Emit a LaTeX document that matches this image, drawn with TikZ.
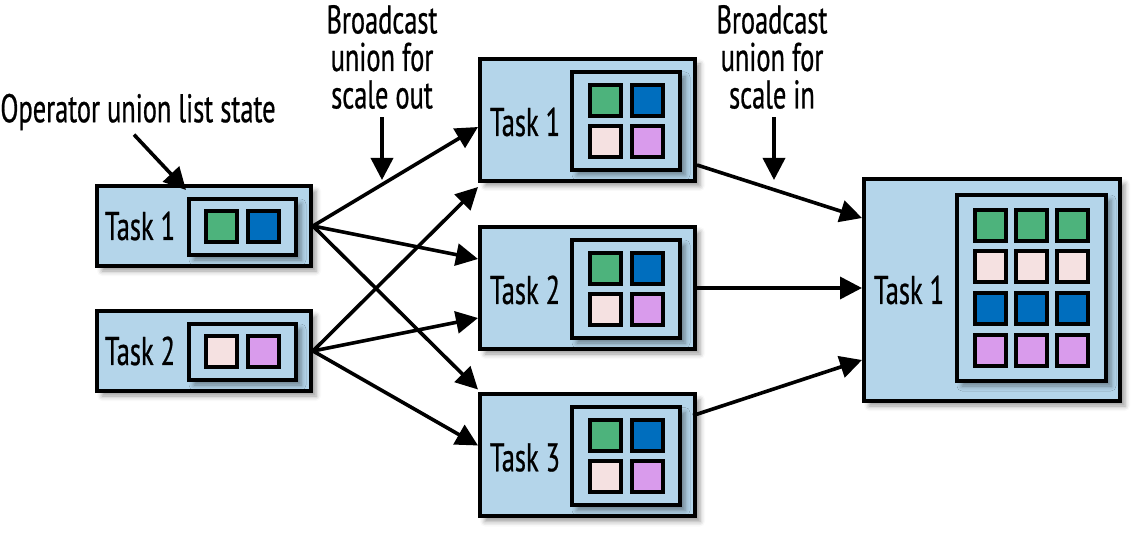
\documentclass[tikz,border=0pt]{standalone}
\usepackage{fontspec}
\setmainfont{PT Sans}[FakeStretch=0.66, FakeBold=0.6]
\usetikzlibrary{arrows.meta,shadows.blur,positioning}
\definecolor{taskblue}{RGB}{180,213,234}
\definecolor{cellgreen}{RGB}{77,179,124}
\definecolor{cellblue}{RGB}{0,110,190}
\definecolor{cellpink}{RGB}{245,225,225}
\definecolor{cellpurple}{RGB}{217,155,236}
\tikzset{
  taskbox/.style  = {shape=rectangle, draw, line width=2pt, fill=taskblue,
                     inner sep=0pt,
                     blur shadow={shadow xshift=2.5pt, shadow yshift=-2.5pt,
                                  shadow blur radius=2.5pt}},
  srctask/.style  = {taskbox, minimum width=107pt, minimum height=40pt},
  midtask/.style  = {taskbox, minimum width=107.5pt, minimum height=61pt},
  sinktask/.style = {taskbox, minimum width=128pt, minimum height=111pt},
  statebox/.style = {taskbox},
  cell/.style     = {shape=rectangle, draw, line width=2pt,
                     minimum size=15.5pt, inner sep=0pt},
  tasklabel/.style= {inner sep=0pt},
  note/.style     = {align=center, inner sep=0pt},
  flow/.style     = {draw, line width=1.8pt,
                     -{Triangle[length=11pt,width=11pt]}}
}
\begin{document}
\begin{tikzpicture}
  [
    x = 0.5pt, y = -0.5pt,
    every node/.style = {font=\fontsize{20}{18.75}\selectfont}
  ]
  \useasboundingbox (0,0) rectangle (1148,545);

  % source tasks
  \node [srctask] (lt1) at (204,226) {};
  \node [tasklabel] (lt1-name) at (140,226) {Task 1};
  \node [statebox, minimum width=53.5pt, minimum height=28pt] (lt1-state) at (242.5,227) {};
  \node [cell, fill=cellgreen] (lt1-a) at (221.5,227) {};
  \node [cell, fill=cellblue]  (lt1-b) at (263.5,227) {};

  \node [srctask] (lt2) at (204,351) {};
  \node [tasklabel] (lt2-name) at (140,351) {Task 2};
  \node [statebox, minimum width=53.5pt, minimum height=28pt] (lt2-state) at (242.5,352) {};
  \node [cell, fill=cellpink]   (lt2-a) at (221.5,352) {};
  \node [cell, fill=cellpurple] (lt2-b) at (263.5,352) {};

  % scaled out tasks
  \foreach \t/\y in {1/120, 2/288, 3/455.5} {
    \node [midtask] (mt\t) at (587.5,\y) {};
    \node [tasklabel] (mt\t-name) at (525,\y+2) {Task \t};
    \node [statebox, minimum width=54pt, minimum height=49pt] (mt\t-state) at (626,\y+1) {};
    \node [cell, fill=cellgreen]  (mt\t-a) at (605,\y-19.5) {};
    \node [cell, fill=cellblue]   (mt\t-b) at (647,\y-19.5) {};
    \node [cell, fill=cellpink]   (mt\t-c) at (605,\y+21.5) {};
    \node [cell, fill=cellpurple] (mt\t-d) at (647,\y+21.5) {};
  }

  % scaled in task
  \node [sinktask] (rt) at (992,290) {};
  \node [tasklabel] (rt-name) at (909,290) {Task 1};
  \node [statebox, minimum width=74.5pt, minimum height=93pt] (rt-state) at (1031.5,288) {};
  \foreach \r/\c/\y in {1/cellgreen/225.5, 2/cellpink/267, 3/cellblue/309, 4/cellpurple/350.5}
    \foreach \k/\x in {1/990, 2/1031, 3/1072.5}
      \node [cell, fill=\c] (rt-\r\k) at (\x,\y) {};

  % notes
  \node [note] (oplist) at (138,112) {Operator union list state};
  \node [note] (scaleout) at (382,57) {Broadcast\\union for\\scale out};
  \node [note] (scalein) at (772,57) {Broadcast\\union for\\scale in};
  \coordinate (oplist-tip) at (186,190);
  \coordinate (scaleout-tip) at (382,180);
  \coordinate (scalein-tip) at (774,180);
  \draw [flow] ([xshift=-2pt,yshift=-2pt]oplist.south) -- (oplist-tip);
  \draw [flow] ([yshift=-4pt]scaleout.south) -- (scaleout-tip);
  \draw [flow] ([xshift=1pt,yshift=-4pt]scalein.south) -- (scalein-tip);

  % scale out
  \draw [flow] (lt1.east) -- ([yshift=-3.5pt]mt1.west);
  \draw [flow] (lt1.east) -- ([yshift=14.5pt]mt2.west);
  \draw [flow] (lt1.east) -- ([yshift=1.5pt]mt3.north west);
  \draw [flow] (lt2.east) -- ([yshift=-2pt]mt1.south west);
  \draw [flow] (lt2.east) -- ([yshift=-15pt]mt2.west);
  \draw [flow] (lt2.east) -- ([yshift=5pt]mt3.west);

  % scale in
  \draw [flow] ([yshift=-22.5pt]mt1.east) -- ([yshift=36pt]rt.west);
  \draw [flow] (mt2.east) -- (mt2.east -| rt.west);
  \draw [flow] ([xshift=-2pt,yshift=20pt]mt3.east) -- ([yshift=-35pt]rt.west);
\end{tikzpicture}
\end{document}
